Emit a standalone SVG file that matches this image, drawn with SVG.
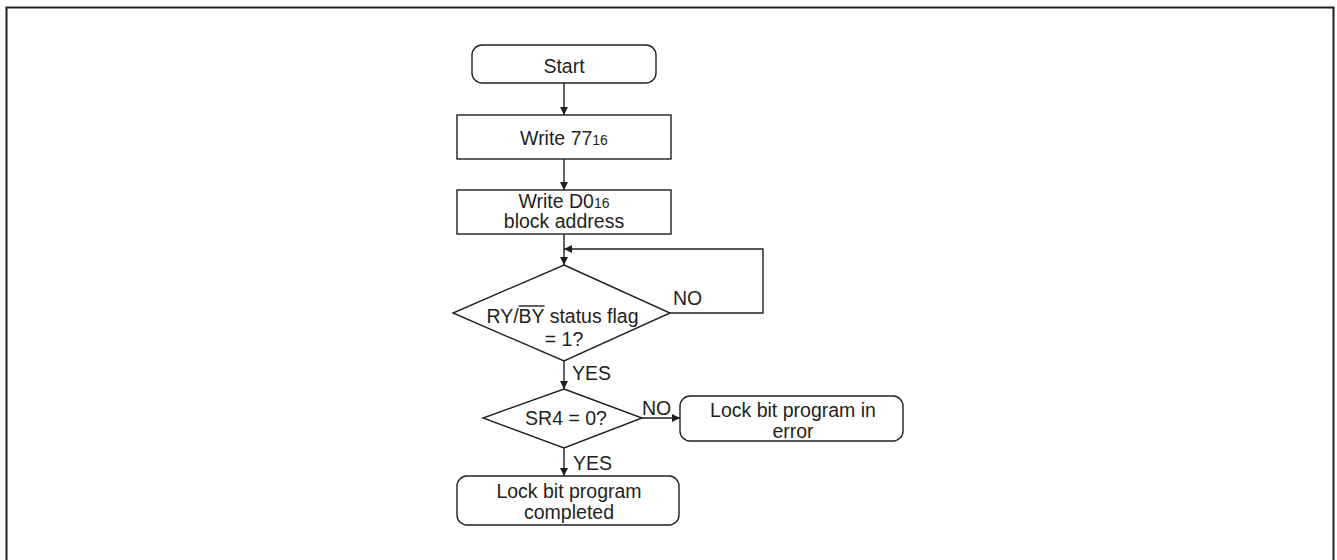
<svg xmlns="http://www.w3.org/2000/svg" width="1337" height="560" viewBox="0 0 1337 560">
<defs>
<style>
.s{fill:#fff;stroke:#231f20;stroke-width:1.4}
.l{fill:none;stroke:#231f20;stroke-width:1.4}
text{font-family:"Liberation Sans",Arial,sans-serif;font-size:19.5px;fill:#231f20}
.c{text-anchor:middle}
.sub{font-size:14px}
</style>
<marker id="a" viewBox="0 0 10 10" refX="10" refY="5" markerWidth="9" markerHeight="8" markerUnits="userSpaceOnUse" orient="auto"><path d="M0,0 L10,5 L0,10 z" fill="#231f20"/></marker>
</defs>
<rect x="6.5" y="7.5" width="1327" height="560" fill="#fff" stroke="#231f20" stroke-width="2"/>
<g id="connectors">
<line class="l" x1="564" y1="83" x2="564" y2="115" marker-end="url(#a)"/>
<line class="l" x1="564" y1="159" x2="564" y2="190" marker-end="url(#a)"/>
<line class="l" x1="564" y1="234" x2="564" y2="265" marker-end="url(#a)"/>
<polyline class="l" points="670,313 763,313 763,249 564,249" marker-end="url(#a)"/>
<line class="l" x1="564" y1="361" x2="564" y2="389" marker-end="url(#a)"/>
<line class="l" x1="642" y1="418" x2="680" y2="418" marker-end="url(#a)"/>
<line class="l" x1="564" y1="448" x2="564" y2="476" marker-end="url(#a)"/>
<text x="673" y="305">NO</text>
<text x="572" y="380">YES</text>
<text x="642" y="415">NO</text>
<text x="573" y="470">YES</text>
</g>
<g id="start">
<rect class="s" x="472" y="45" width="184" height="38" rx="10"/>
<text class="c" x="564" y="73">Start</text>
</g>
<g id="write77">
<rect class="s" x="457" y="115" width="214" height="44"/>
<text class="c" x="564" y="145">Write 77<tspan class="sub">16</tspan></text>
</g>
<g id="writeD0">
<rect class="s" x="457" y="190" width="214" height="44"/>
<text class="c" x="564" y="208">Write D0<tspan class="sub">16</tspan></text>
<text class="c" x="564" y="228">block address</text>
</g>
<g id="ryby">
<polygon class="s" points="564,265 670,313 564,361 453,313"/>
<text class="c" x="562.5" y="323">RY/BY status flag</text>
<line x1="518.6" y1="306" x2="544.6" y2="306" stroke="#231f20" stroke-width="1.4"/>
<text class="c" x="564" y="346">= 1?</text>
</g>
<g id="sr4">
<polygon class="s" points="564,389 642,418 564,448 483,418"/>
<text class="c" x="566" y="425">SR4 = 0?</text>
</g>
<g id="error">
<rect class="s" x="680" y="396" width="223" height="45" rx="10"/>
<text class="c" x="793" y="417">Lock bit program in</text>
<text class="c" x="793" y="438">error</text>
</g>
<g id="completed">
<rect class="s" x="457" y="476" width="222" height="49" rx="10"/>
<text class="c" x="569" y="498">Lock bit program</text>
<text class="c" x="569" y="519">completed</text>
</g>
</svg>
